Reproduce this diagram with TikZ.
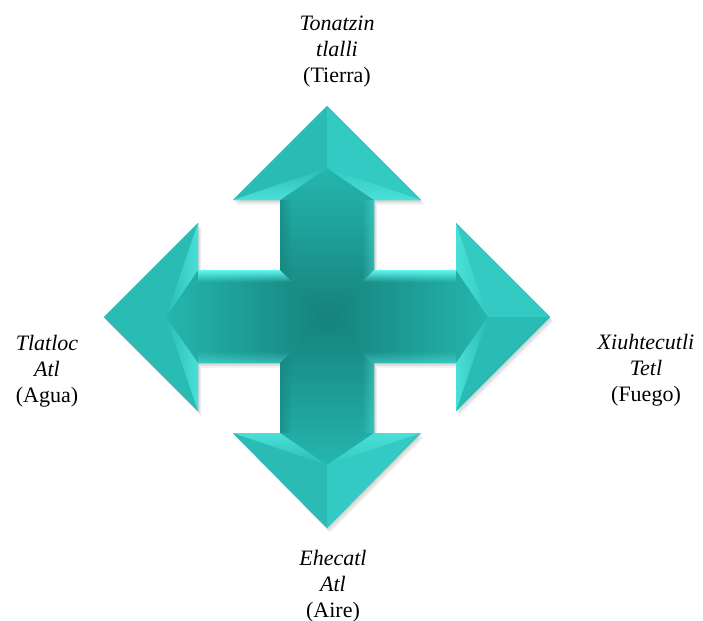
\documentclass[tikz,border=0pt]{standalone}
\usepackage{fontspec}
\setmainfont{Liberation Serif}
\usepackage{tikz}
\usetikzlibrary{fadings}
\definecolor{armdark}{RGB}{22, 130, 124}
\definecolor{armlight}{RGB}{36, 182, 174}
\definecolor{headdim}{RGB}{42, 188, 180}
\definecolor{headlit}{RGB}{50, 202, 194}
\definecolor{wingglow}{RGB}{74, 224, 216}
\definecolor{edgeglow}{RGB}{96, 248, 240}

\begin{document}
\begin{tikzpicture}[
        x=0.5pt, y=-0.5pt,
        label text/.style={font=\fontsize{11}{13}\selectfont, align=center, inner sep=0pt},
        facet dim/.style={fill=headdim},
        facet lit/.style={fill=headlit},
        glow strip/.style={fill=edgeglow},
        dark strip/.style={fill=armdark, opacity=0.6}
    ]
        \useasboundingbox (0,0) rectangle (703,621);

        % Soft shadow
        \foreach \d in {1,2,3} {
            \fill[black, opacity=0.06, shift={(\d,1.5*\d)}]
                (327,106) -- (421,200) -- (374,200) -- (374,270) -- (456,270) -- (456,223) -- (550,317)
                -- (456,411) -- (456,363) -- (374,363) -- (374,433) -- (421,433) -- (327,528) -- (233,433)
                -- (280,433) -- (280,363) -- (198,363) -- (198,411) -- (104,317) -- (198,223) -- (198,270)
                -- (280,270) -- (280,200) -- (233,200) -- cycle;
        }
        % Base of the cross
        \fill[headdim]
            (327,106) -- (421,200) -- (374,200) -- (374,270) -- (456,270) -- (456,223) -- (550,317)
            -- (456,411) -- (456,363) -- (374,363) -- (374,433) -- (421,433) -- (327,528) -- (233,433)
            -- (280,433) -- (280,363) -- (198,363) -- (198,411) -- (104,317) -- (198,223) -- (198,270)
            -- (280,270) -- (280,200) -- (233,200) -- cycle;

        \coordinate (c) at (327,317);

        % Shafts
        \shade[top color=armlight, bottom color=armdark] (c) -- (280,270) -- (280,200) -- (327,168) -- (374,200) -- (374,270) -- cycle;
        \shade[top color=armdark, bottom color=armlight] (c) -- (280,363) -- (280,433) -- (327,465) -- (374,433) -- (374,363) -- cycle;
        \shade[left color=armlight, right color=armdark] (c) -- (280,270) -- (198,270) -- (166,317) -- (198,363) -- (280,363) -- cycle;
        \shade[left color=armdark, right color=armlight] (c) -- (374,270) -- (456,270) -- (488,317) -- (456,363) -- (374,363) -- cycle;

        % Bevel strips on the shafts
        \fill[glow strip, path fading=south] (198,270) -- (280,270) -- (292,282) -- (198,282) -- cycle;
        \fill[glow strip, path fading=south] (374,270) -- (456,270) -- (456,282) -- (362,282) -- cycle;
        \fill[glow strip, opacity=0.4, path fading=north] (198,363) -- (280,363) -- (292,351) -- (198,351) -- cycle;
        \fill[glow strip, opacity=0.4, path fading=north] (374,363) -- (456,363) -- (456,351) -- (362,351) -- cycle;
        \fill[dark strip, path fading=east] (280,200) -- (280,270) -- (292,282) -- (292,200) -- cycle;
        \fill[dark strip, path fading=east] (280,433) -- (280,363) -- (292,351) -- (292,433) -- cycle;
        \fill[glow strip, opacity=0.35, path fading=west] (374,200) -- (374,270) -- (362,282) -- (362,200) -- cycle;
        \fill[glow strip, opacity=0.35, path fading=west] (374,433) -- (374,363) -- (362,351) -- (362,433) -- cycle;

        % Head: Tierra (top)
        \fill[facet dim] (233,200) -- (327,106) -- (327,168) -- cycle;
        \fill[facet lit] (421,200) -- (327,106) -- (327,168) -- cycle;
        \shade[top color=headdim, bottom color=wingglow] (233,200) -- (327,168) -- (280,200) -- cycle;
        \shade[top color=headlit, bottom color=wingglow] (421,200) -- (327,168) -- (374,200) -- cycle;

        % Head: Aire (bottom)
        \fill[facet dim] (233,433) -- (327,528) -- (327,465) -- cycle;
        \fill[facet lit] (421,433) -- (327,528) -- (327,465) -- cycle;
        \shade[top color=wingglow, bottom color=headdim] (233,433) -- (327,465) -- (280,433) -- cycle;
        \shade[top color=wingglow, bottom color=headlit] (421,433) -- (327,465) -- (374,433) -- cycle;

        % Head: Fuego (right)
        \fill[facet lit] (456,223) -- (550,317) -- (488,317) -- cycle;
        \fill[facet dim] (456,411) -- (550,317) -- (488,317) -- cycle;
        \shade[left color=wingglow, right color=headlit] (456,223) -- (488,317) -- (456,270) -- cycle;
        \shade[left color=wingglow, right color=headdim] (456,411) -- (488,317) -- (456,363) -- cycle;

        % Head: Agua (left)
        \fill[facet dim] (198,223) -- (104,317) -- (166,317) -- cycle;
        \fill[facet dim] (198,411) -- (104,317) -- (166,317) -- cycle;
        \shade[left color=headdim, right color=wingglow] (198,223) -- (166,317) -- (198,270) -- cycle;
        \shade[left color=headdim, right color=wingglow] (198,411) -- (166,317) -- (198,363) -- cycle;

        % Labels
        \node[label text] (tierra) at (337,52) {\textit{Tonatzin}\\\textit{tlalli}\\(Tierra)};
        \node[label text] (agua) at (47,371) {\textit{Tlatloc}\\\textit{Atl}\\(Agua)};
        \node[label text] (fuego) at (646,370) {\textit{Xiuhtecutli}\\\textit{Tetl}\\(Fuego)};
        \node[label text] (aire) at (333,586) {\textit{Ehecatl}\\\textit{Atl}\\(Aire)};
    \end{tikzpicture}
\end{document}
